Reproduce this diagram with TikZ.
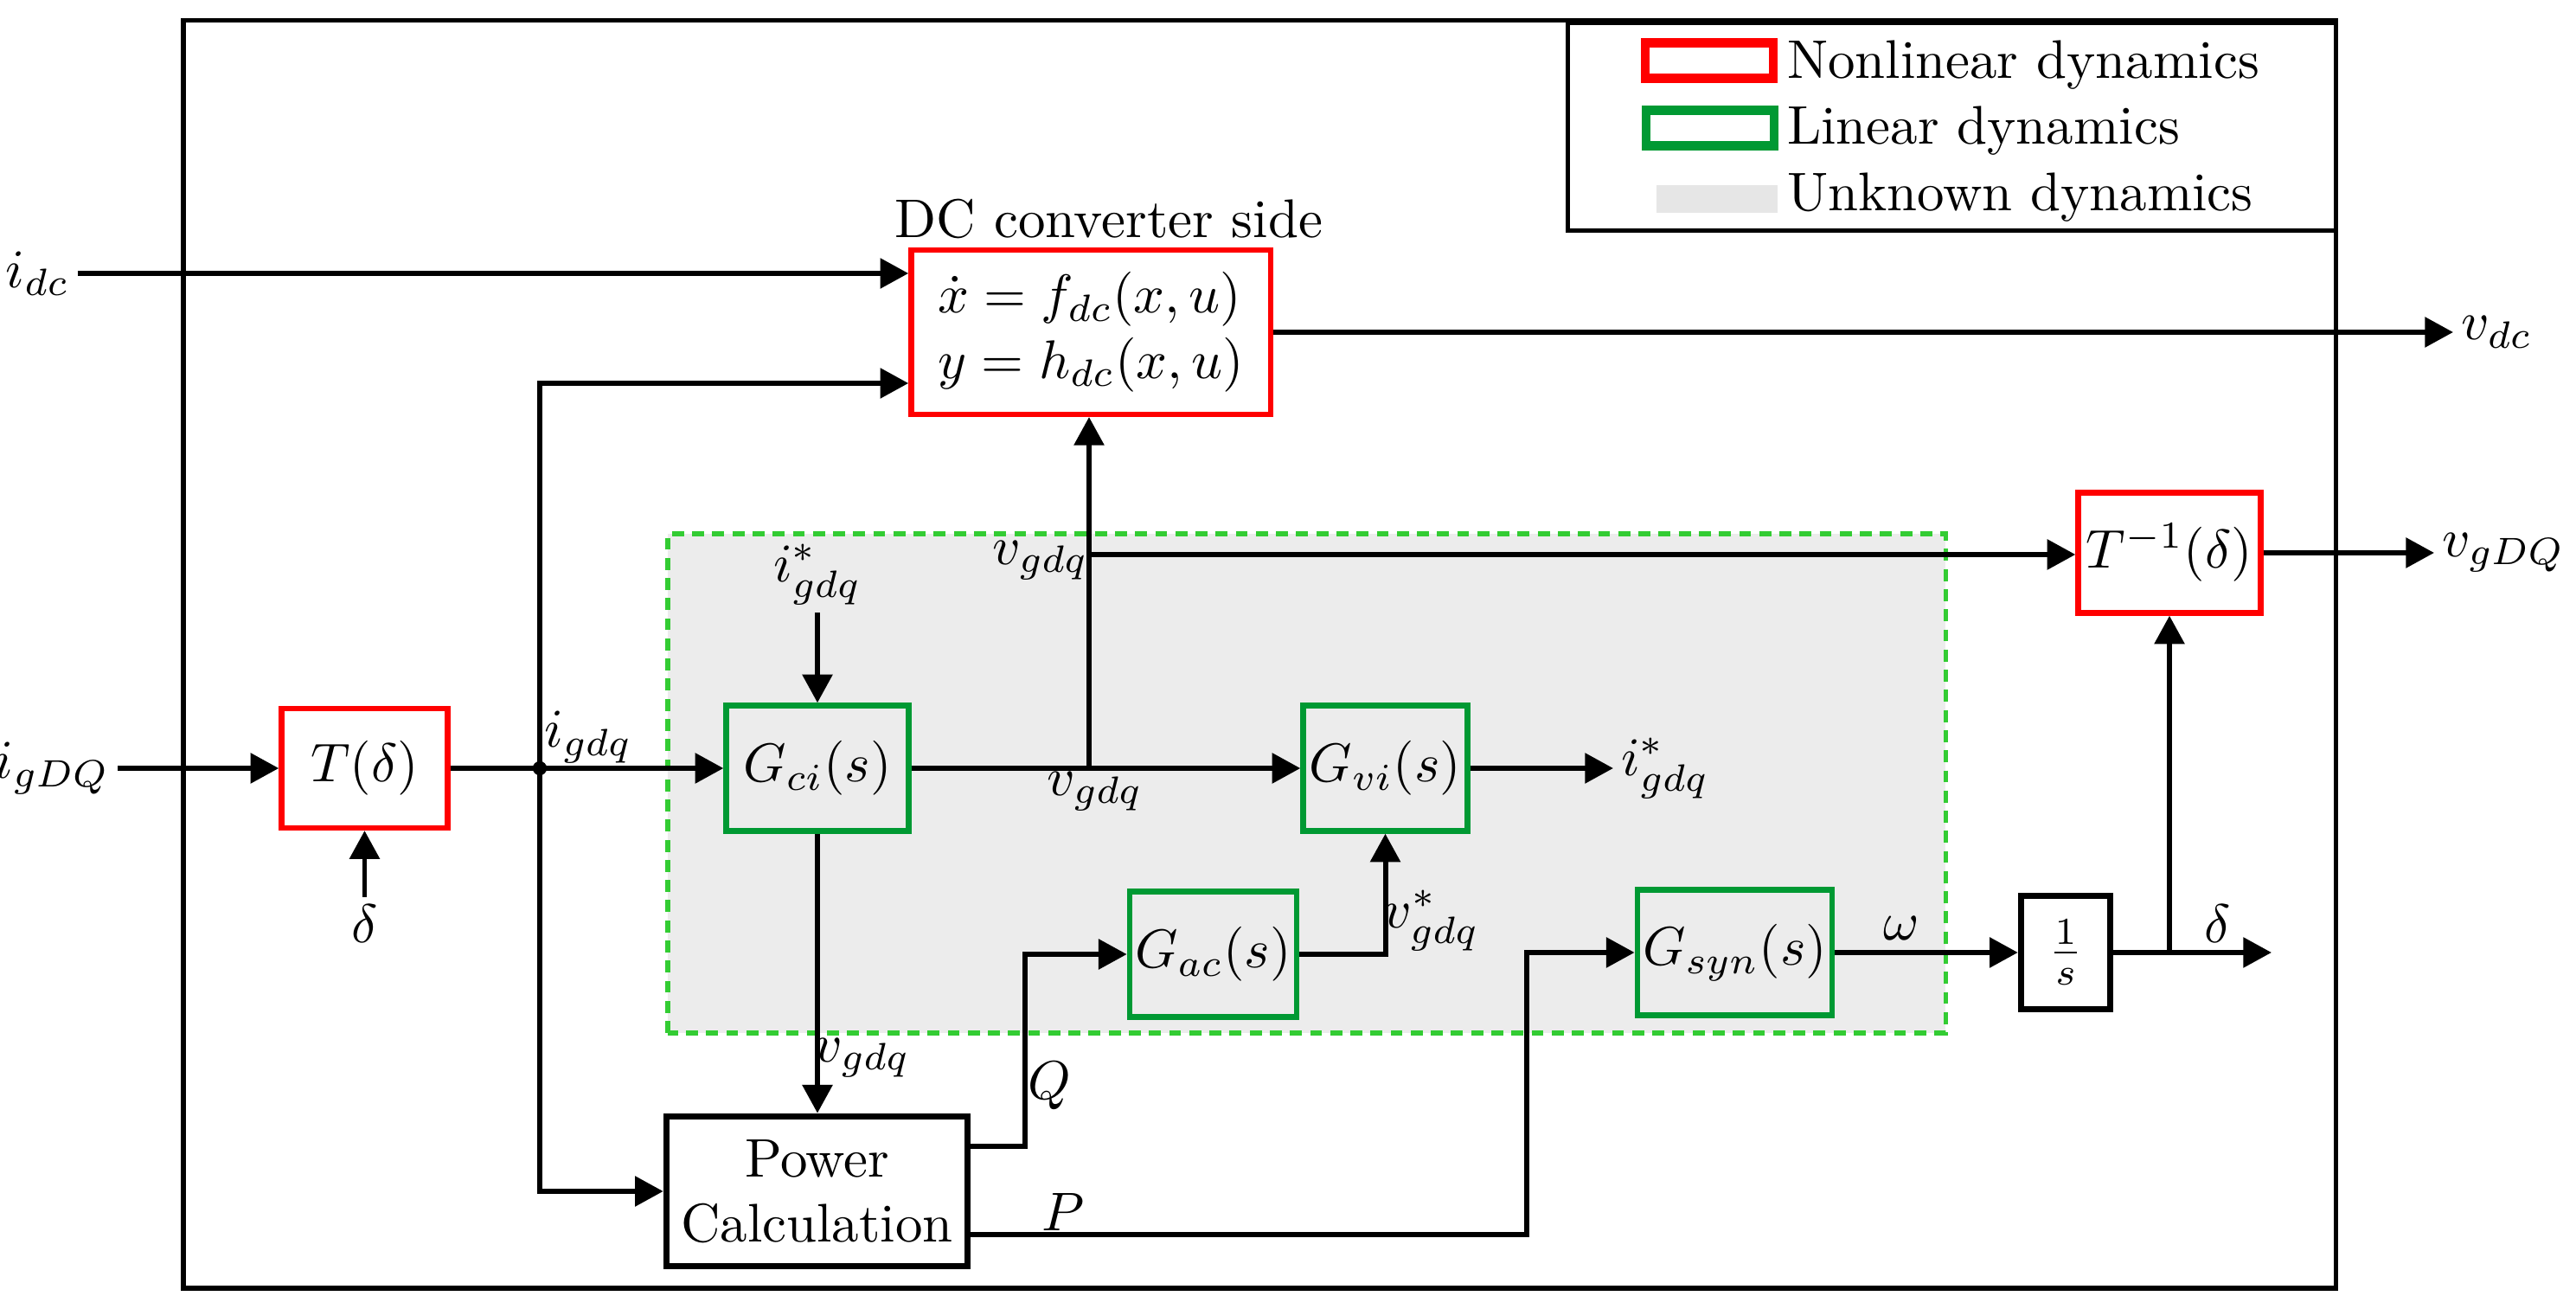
\documentclass[tikz,border=0pt]{standalone}
\usetikzlibrary{arrows.meta,calc}
\definecolor{nlred}{RGB}{255,0,0}
\definecolor{lgreen}{RGB}{0,153,51}
\definecolor{dgreen}{RGB}{51,204,51}
\definecolor{ugray}{RGB}{236,236,236}
\definecolor{lgray}{RGB}{230,230,230}
\begin{document}
\begin{tikzpicture}[x=0.5587cm,y=0.5587cm,line width=0.95pt,
  >={Triangle[length=5.2pt,width=5.4pt]},
  nlin/.style={draw=nlred,line width=1pt,inner sep=1pt,minimum height=0.771cm},
  lin/.style={draw=lgreen,line width=1pt,inner sep=1pt,minimum height=0.81cm},
  blk/.style={draw=black,line width=1.2pt,inner sep=1pt},
  lbl/.style={inner sep=1pt}]
  \useasboundingbox (0,0) rectangle (29.78,14.98);

  % Unknown dynamics region, frame and legend
  \draw[dgreen,dash pattern=on 2.2pt off 1.5pt,line width=0.8pt,fill=ugray] (7.72,3.04) rectangle (22.49,8.81);
  \draw[line width=0.8pt] (2.12,0.09) rectangle (27.00,14.74);
  \draw[line width=0.8pt] (18.12,12.31) rectangle (27.00,14.71);
  \node[draw=nlred,line width=1.6pt,minimum width=0.827cm,minimum height=0.229cm,inner sep=0pt] (LNL) at (19.76,14.28) {};
  \node[draw=lgreen,line width=1.6pt,minimum width=0.827cm,minimum height=0.229cm,inner sep=0pt] (LL) at (19.77,13.50) {};
  \node[fill=lgray,minimum width=0.782cm,minimum height=0.179cm,inner sep=0pt] (LU) at (19.85,12.68) {};
  \node[anchor=base west,inner sep=0pt] (LNLT) at (20.63,14.07) {Nonlinear dynamics};
  \node[anchor=base west,inner sep=0pt] (LLT) at (20.63,13.31) {Linear dynamics};
  \node[anchor=base west,inner sep=0pt] (LUT) at (20.63,12.54) {Unknown dynamics};

  % Define nodes for all blocks
  \node[nlin,minimum width=2.32cm,minimum height=1.06cm,align=left] (DC) at (12.61,11.14) {$\dot{x}=f_{dc}(x,u)$\\$y=h_{dc}(x,u)$};
  \node[anchor=base,inner sep=0pt] (DCL) at (12.82,12.23) {DC converter side};
  \node[nlin,minimum width=1.073cm] (T) at (4.215,6.10) {$T(\delta)$};
  \node[nlin,minimum width=1.179cm,minimum height=0.777cm] (Tinv) at (25.08,8.59) {$T^{-1}(\delta)$};
  \node[lin,minimum width=1.179cm] (Gci) at (9.45,6.10) {$G_{ci}(s)$};
  \node[lin,minimum width=1.062cm] (Gvi) at (16.015,6.10) {$G_{vi}(s)$};
  \node[lin,minimum width=1.073cm] (Gac) at (14.025,3.95) {$G_{ac}(s)$};
  \node[lin,minimum width=1.251cm] (Gsyn) at (20.055,3.97) {$G_{syn}(s)$};
  \node[blk,minimum width=1.944cm,minimum height=0.967cm,align=center] (PC) at (9.445,1.21) {Power\\Calculation};
  \node[blk,minimum width=0.575cm,minimum height=0.732cm] (INT) at (23.88,3.97) {$\frac{1}{s}$};

  % Define nodes for signals
  \node[lbl] (IDC) at (0.435,11.82) {$i_{dc}$};
  \node[lbl,anchor=west] (VDC) at (28.36,11.14) {$v_{dc}$};
  \node[lbl,anchor=east] (IGDQ) at (1.36,6.10) {$i_{gDQ}$};
  \node[lbl] (DEL1) at (4.215,4.30) {$\delta$};
  \node[lbl] (IG) at (6.80,6.46) {$i_{gdq}$};
  \node[lbl] (IREF) at (9.45,8.34) {$i^*_{gdq}$};
  \node[lbl] (VG1) at (12.03,8.50) {$v_{gdq}$};
  \node[lbl] (VG2) at (12.66,5.83) {$v_{gdq}$};
  \node[lbl] (VG3) at (9.97,2.75) {$v_{gdq}$};
  \node[lbl,anchor=west] (IOUT) at (18.65,6.10) {$i^*_{gdq}$};
  \node[lbl] (VREF) at (16.55,4.34) {$v^*_{gdq}$};
  \node[lbl] (Q) at (12.13,2.43) {$Q$};
  \node[lbl] (P) at (12.29,0.97) {$P$};
  \node[lbl] (W) at (21.98,4.25) {$\omega$};
  \node[lbl] (DEL2) at (25.64,4.30) {$\delta$};
  \node[lbl,anchor=west] (VGDQ) at (28.14,8.59) {$v_{gDQ}$};
  \coordinate (J1) at (6.24,6.10);
  \coordinate (J2) at (12.59,6.10);
  \coordinate (J3) at (12.59,8.57);
  \coordinate (J4) at (25.08,3.97);
  \coordinate (DEND) at (26.26,3.97);

  % Draw arrows
  \draw[->] (IDC) -- (IDC -| DC.west);
  \draw[->] (DC) -- (VDC);
  \draw[->] (IGDQ) -- (T);
  \draw[->] (DEL1) -- (T);
  \draw[->] (T) -- (Gci);
  \fill (J1) circle (1.3pt);
  \draw[->] (J1) |- ($(DC.west)+(0,-0.59)$);
  \draw[->] (J1) |- (PC.west);
  \draw[->] (Gci) -- (Gvi);
  \draw[->] (J2) -- (J2 |- DC.south);
  \draw[->] (J3) -- (J3 -| Tinv.west);
  \draw[->] (IREF) -- (Gci);
  \draw[->] (Gci) -- (Gci |- PC.north);
  \draw[->] ($(PC.east)+(0,0.52)$) -- ++(0.63,0) |- (Gac);
  \draw[->] ($(PC.east)+(0,-0.50)$) -- ++(6.43,0) |- (Gsyn);
  \draw[->] (Gac) -| (Gvi);
  \draw[->] (Gvi) -- (IOUT);
  \draw[->] (Gsyn) -- (INT);
  \draw[->] (INT) -- (DEND);
  \draw[->] (J4) -- (Tinv);
  \draw[->] (Tinv) -- (VGDQ);

\end{tikzpicture}
\end{document}
